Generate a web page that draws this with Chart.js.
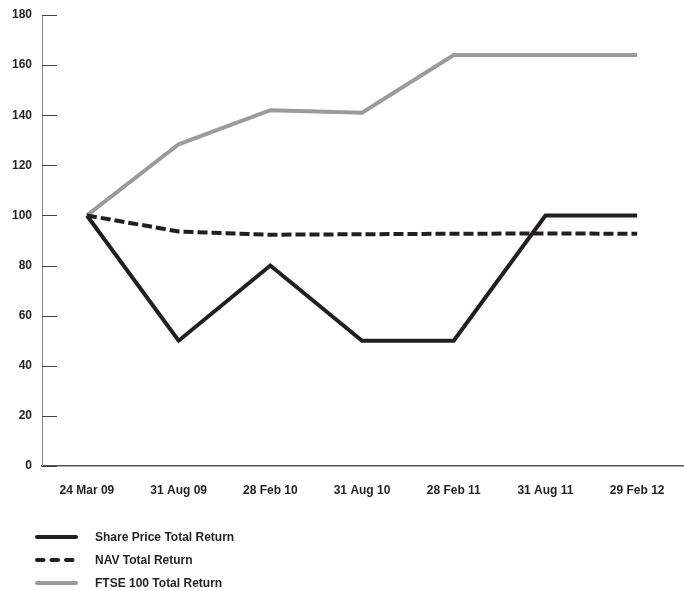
<!DOCTYPE html>
<html>
<head>
<meta charset="utf-8">
<script src="https://cdn.jsdelivr.net/npm/chart.js@4.4.1/dist/chart.umd.min.js"></script>
<style>
  html, body { margin:0; padding:0; background:#fff; }
  #wrap { position:relative; width:684px; height:591px; overflow:hidden; }
  #c { position:absolute; left:0; top:0; }
  #legend { position:absolute; left:35px; top:525px; font-family:"Liberation Sans",Arial,sans-serif; font-weight:bold; font-size:12px; color:#231f20; }
  .item { display:flex; align-items:center; height:23px; }
  .item svg { width:43px; height:8px; margin-right:17px; }
</style>
</head>
<body>
<div id="wrap">
  <canvas id="c" width="684" height="591"></canvas>
  <div id="legend"></div>
</div>
<script>
const categories = ["24 Mar 09","31 Aug 09","28 Feb 10","31 Aug 10","28 Feb 11","31 Aug 11","29 Feb 12"];
const sharePrice = [100, 50, 80, 50, 50, 100, 100];
const navReturn  = [100, 93.6, 92.3, 92.5, 92.7, 92.8, 92.7];
const ftseReturn = [100, 128.4, 142, 141, 164, 164, 164];
const yTicks = [0, 20, 40, 60, 80, 100, 120, 140, 160, 180];

const FONT = '"Liberation Sans",Arial,sans-serif';
const toPts = arr => arr.map((v, i) => ({x: i, y: v}));

const series = [
  {label: "Share Price Total Return", data: sharePrice, color: "#231f20", dash: []},
  {label: "NAV Total Return", data: navReturn, color: "#231f20", dash: [10, 4]},
  {label: "FTSE 100 Total Return", data: ftseReturn, color: "#9b9b9b", dash: []}
];

const innerTicks = {
  id: "innerTicks",
  afterDatasetsDraw(chart) {
    const {ctx, chartArea} = chart;
    const y = chart.scales.y;
    ctx.save();
    ctx.strokeStyle = "#444";
    ctx.lineWidth = 1;
    y.ticks.forEach(t => {
      const py = Math.round(y.getPixelForValue(t.value)) + 0.5;
      ctx.beginPath();
      ctx.moveTo(chartArea.left, py);
      ctx.lineTo(chartArea.left + 15, py);
      ctx.stroke();
    });
    ctx.restore();
  }
};

new Chart(document.getElementById("c"), {
  type: "line",
  data: {
    datasets: series.map((s, i) => ({
      label: s.label,
      data: toPts(s.data),
      borderColor: s.color,
      backgroundColor: s.color,
      borderWidth: 4,
      borderDash: s.dash,
      pointRadius: 0,
      tension: 0,
      borderJoinStyle: "miter",
      order: i + 1
    }))
  },
  options: {
    responsive: false,
    animation: false,
    events: [],
    layout: { padding: { top: 15, left: 0, right: 1, bottom: 85 } },
    plugins: { legend: { display: false }, tooltip: { enabled: false } },
    scales: {
      x: {
        type: "linear",
        min: -0.49,
        max: 6.5,
        afterBuildTicks: sc => { sc.ticks = categories.map((c, i) => ({value: i})); },
        afterFit: sc => { sc.height = 40; sc.paddingLeft = 0; sc.paddingRight = 0; },
        grid: { display: false, drawTicks: false },
        border: { display: true, color: "#555", width: 1.5 },
        ticks: {
          callback: v => categories[v],
          padding: 17,
          maxRotation: 0,
          autoSkip: false,
          color: "#231f20",
          font: { family: FONT, weight: "bold", size: 12 }
        }
      },
      y: {
        min: 0,
        max: 180,
        afterBuildTicks: sc => { sc.ticks = yTicks.map(v => ({value: v})); },
        afterFit: sc => { sc.width = 42; sc.paddingTop = 0; sc.paddingBottom = 0; },
        grid: { display: false, drawTicks: false },
        border: { display: true, color: "#888", width: 1 },
        ticks: {
          padding: 10,
          color: "#231f20",
          font: { family: FONT, weight: "bold", size: 12 }
        }
      }
    }
  },
  plugins: [innerTicks]
});

const leg = document.getElementById("legend");
series.forEach(s => {
  const d = document.createElement("div");
  d.className = "item";
  d.innerHTML = '<svg viewBox="0 0 43 8"><line x1="2" y1="4" x2="41" y2="4" stroke="' + s.color +
    '" stroke-width="4" stroke-linecap="round"' + (s.dash.length ? ' stroke-dasharray="6.5,8"' : '') + '/></svg><span></span>';
  d.querySelector("span").textContent = s.label;
  leg.appendChild(d);
});
</script>
</body>
</html>
